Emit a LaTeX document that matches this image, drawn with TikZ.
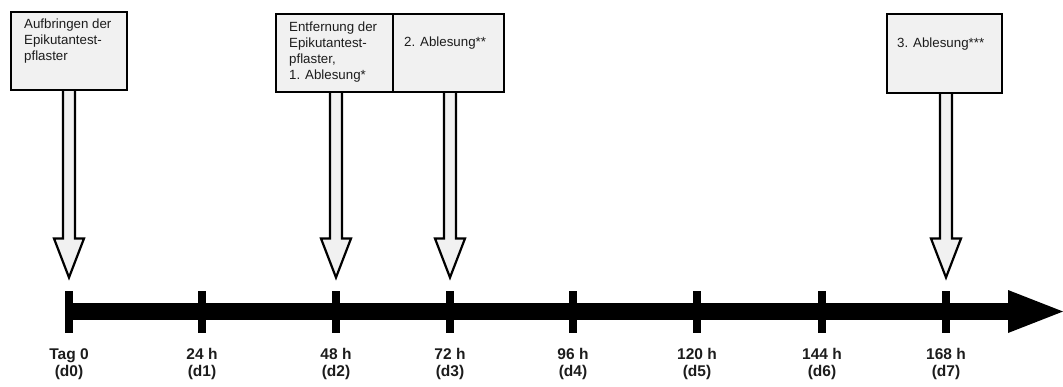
\documentclass[tikz,border=0pt]{standalone}
\usepackage{fontspec}
\setmainfont{Liberation Sans}
\usetikzlibrary{calc}
\definecolor{boxgray}{RGB}{241,241,241}
\definecolor{labelgray}{RGB}{28,28,28}
% hollow arrow: #1 = point on box bottom (gives y of shaft top), #2 = tip
\newcommand\hollowarrow[2]{%
  \draw[harrow] let \p1=(#1), \p2=(#2) in
    (\x2-6bp,\y1) -- (\x2-6bp,\y2+39bp) -- (\x2-15bp,\y2+39bp) -- (\x2,\y2)
    -- (\x2+15bp,\y2+39bp) -- (\x2+6bp,\y2+39bp) -- (\x2+6bp,\y1);}
\begin{document}
\begin{tikzpicture}[x=1bp,y=-1bp,
  tickmark/.style={fill=black, rectangle, inner sep=0, outer sep=0, minimum width=8bp, minimum height=42bp},
  callout/.style={draw=black, line width=2.4bp, fill=boxgray, rectangle, inner sep=0, outer sep=0, anchor=north west},
  boxtext/.style={anchor=north west, inner sep=0, align=left, text=labelgray, font=\fontsize{13.3bp}{16bp}\selectfont},
  daylabel/.style={anchor=north, inner sep=0, align=center, text=labelgray, font=\fontsize{15.5bp}{17bp}\selectfont\bfseries},
  harrow/.style={draw=black, line width=2.2bp, fill=boxgray}]
\useasboundingbox (0,0) rectangle (1063,386);

% timeline ticks
\node[tickmark] (t0) at (69,311.5) {};
\node[tickmark] (t1) at (202,311.5) {};
\node[tickmark] (t2) at (336,311.5) {};
\node[tickmark] (t3) at (450,311.5) {};
\node[tickmark] (t4) at (573,311.5) {};
\node[tickmark] (t5) at (697,311.5) {};
\node[tickmark] (t6) at (822,311.5) {};
\node[tickmark] (t7) at (946,311.5) {};

% axis
\coordinate (headbase) at (1008,311.5);
\coordinate (axend) at (1063,311.5);
\draw[line width=17bp] (t0.west) -- (headbase);
\fill (axend) -- ($(headbase)+(0,-21.5)$) -- ($(headbase)+(0,21.5)$) -- cycle;

% day labels
\node[daylabel] (l0) at ($(t0.south)+(0,16)$) {Tag 0\\(d0)};
\node[daylabel] (l1) at ($(t1.south)+(0,16)$) {24 h\\(d1)};
\node[daylabel] (l2) at ($(t2.south)+(0,16)$) {48 h\\(d2)};
\node[daylabel] (l3) at ($(t3.south)+(0,16)$) {72 h\\(d3)};
\node[daylabel] (l4) at ($(t4.south)+(0,16)$) {96 h\\(d4)};
\node[daylabel] (l5) at ($(t5.south)+(0,16)$) {120 h\\(d5)};
\node[daylabel] (l6) at ($(t6.south)+(0,16)$) {144 h\\(d6)};
\node[daylabel] (l7) at ($(t7.south)+(0,16)$) {168 h\\(d7)};

% arrow tips
\coordinate (a0) at ($(t0.north)+(0,-13)$);
\coordinate (a2) at ($(t2.north)+(0,-13)$);
\coordinate (a3) at ($(t3.north)+(0,-13)$);
\coordinate (a7) at ($(t7.north)+(0,-13)$);

% boxes (positions)
\coordinate (b1pos) at (11,12);
\coordinate (b2apos) at (276,14);
\coordinate (b2bpos) at (393,14);
\coordinate (b3pos) at (887,14);
\path (b1pos) node[callout, draw=none, fill=none, minimum width=116bp, minimum height=78bp] (b1) {};
\path (b2apos) node[callout, draw=none, fill=none, minimum width=117bp, minimum height=78bp] (b2a) {};
\path (b2bpos) node[callout, draw=none, fill=none, minimum width=111bp, minimum height=78bp] (b2b) {};
\path (b3pos) node[callout, draw=none, fill=none, minimum width=115bp, minimum height=79bp] (b3) {};

% hollow arrows
\hollowarrow{b1.south}{a0}
\hollowarrow{b2a.south}{a2}
\hollowarrow{b2b.south}{a3}
\hollowarrow{b3.south}{a7}

% draw boxes over arrow tops
\node[callout, minimum width=116bp, minimum height=78bp] at (b1pos) {};
\node[callout, minimum width=117bp, minimum height=78bp] at (b2apos) {};
\node[callout, minimum width=111bp, minimum height=78bp] at (b2bpos) {};
\node[callout, minimum width=115bp, minimum height=79bp] at (b3pos) {};

% box texts
\node[boxtext] (b1t) at ($(b1.north west)+(13,6.5)$) {Aufbringen der\\Epikutantest-\\pflaster};
\node[boxtext] (b2at) at ($(b2a.north west)+(13,8)$) {Entfernung der\\Epikutantest-\\pflaster,\\1. Ablesung*};
\node[boxtext] (b2bt) at ($(b2b.north west)+(11,23)$) {2. Ablesung**};
\node[boxtext] (b3t) at ($(b3.north west)+(10,24)$) {3. Ablesung***};
\end{tikzpicture}
\end{document}
